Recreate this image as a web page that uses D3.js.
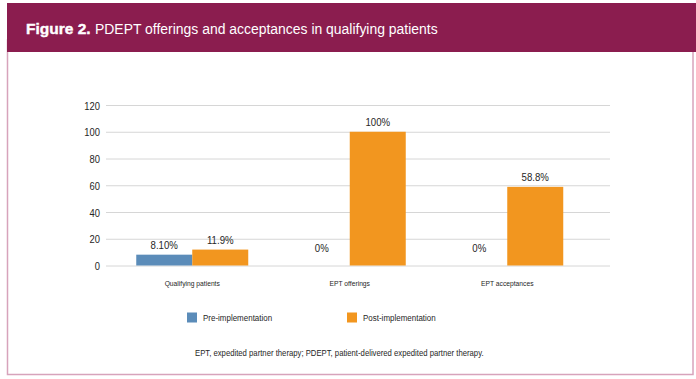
<!DOCTYPE html>
<html><head><meta charset="utf-8">
<script src="https://cdn.jsdelivr.net/npm/d3@7"></script>
<style>
html,body{margin:0;padding:0;background:#fff;}
svg{display:block;}
</style></head>
<body>
<svg id="chart" width="696" height="379"></svg>
<script>
const categories = ["Qualifying patients", "EPT offerings", "EPT acceptances"];
const seriesNames = ["Pre-implementation", "Post-implementation"];
const preValues = [8.1, 0, 0];
const postValues = [11.9, 100, 58.8];
const preLabels = ["8.10%", "0%", "0%"];
const postLabels = ["11.9%", "100%", "58.8%"];
const yTicks = [0, 20, 40, 60, 80, 100, 120];
const colors = ["#5b8cb9", "#f2961f"];
const titleBold = "Figure 2.";
const titleRest = "PDEPT offerings and acceptances in qualifying patients";
const footnote = "EPT, expedited partner therapy; PDEPT, patient-delivered expedited partner therapy.";

const svg = d3.select("#chart");
const font = "'Liberation Sans', Arial, Helvetica, sans-serif";
const SX = 0.84; // condensed look

// condensed text helper
function ctext(parent, x, y, str, size, anchor, sx) {
  const g = parent.append("g").attr("transform", `translate(${x},${y}) scale(${sx || SX},1)`);
  return g.append("text").attr("x", 0).attr("y", 0).attr("text-anchor", anchor || "start")
    .attr("font-family", font).attr("font-size", size).attr("fill", "#262626").text(str);
}

// frame
svg.append("rect").attr("x", 7.5).attr("y", 40).attr("width", 685.5).attr("height", 334.5)
  .attr("fill", "#fff").attr("stroke", "#d7a3bb").attr("stroke-width", 1.5);
svg.append("rect").attr("x", 7).attr("y", 3).attr("width", 689).attr("height", 49).attr("fill", "#8b1d4f");
svg.append("text").attr("x", 26).attr("y", 34).attr("fill", "#fff").attr("font-family", font)
  .attr("font-size", 15.5).attr("font-weight", "bold").attr("stroke", "#fff").attr("stroke-width", 0.4)
  .text(titleBold);
ctext(svg, 95, 34, titleRest, 15, "start", 0.93).attr("fill", "#fff");

// scales
const y = d3.scaleLinear().domain([0, 120]).range([265.5, 105]);
const x = d3.scaleBand().domain(categories).range([113.5, 586]).paddingInner(0).paddingOuter(0);
const xs = d3.scaleBand().domain(seriesNames).range([0, 112]).padding(0);
const groupOffset = (x.bandwidth() - 112) / 2;

// grid
const yAxis = d3.axisLeft(y).tickValues(yTicks).tickSize(-(610 - 106)).tickFormat(() => "");
const gy = svg.append("g").attr("transform", "translate(106,0)").call(yAxis);
gy.select(".domain").remove();
gy.selectAll(".tick line").attr("stroke", "#d6d6d6").attr("stroke-width", 1);
gy.selectAll(".tick").each(function(d) {
  ctext(d3.select(this), -6, 4, d3.format("d")(d), 11.2, "end");
});

// bars
const data = categories.map((c, i) => ({c, vals: [preValues[i], postValues[i]], labs: [preLabels[i], postLabels[i]]}));
const groups = svg.append("g").selectAll("g").data(data).join("g")
  .attr("transform", d => `translate(${x(d.c) + groupOffset},0)`);
groups.selectAll("rect").data(d => d.vals.map((v, j) => ({v, j}))).join("rect")
  .attr("x", d => xs(seriesNames[d.j])).attr("width", xs.bandwidth())
  .attr("y", d => y(d.v)).attr("height", d => y(0) - y(d.v))
  .attr("fill", d => colors[d.j]);
groups.each(function(d) {
  const g = d3.select(this);
  d.vals.forEach((v, j) => {
    ctext(g, xs(seriesNames[j]) + xs.bandwidth() / 2, v === 0 ? y(0) - 14 : y(v) - 6, d.labs[j], 11.5, "middle");
  });
});

// category labels
categories.forEach(c => ctext(svg, x(c) + x.bandwidth() / 2, 286, c, 8, "middle"));

// legend
const legX = [187, 347];
seriesNames.forEach((s, i) => {
  svg.append("rect").attr("x", legX[i]).attr("y", 312.5).attr("width", 10).attr("height", 10).attr("fill", colors[i]);
  ctext(svg, legX[i] + 16, 320.5, s, 9.5, "start");
});

// footnote
ctext(svg, 195, 356, footnote, 9.2, "start");
</script>
</body></html>
